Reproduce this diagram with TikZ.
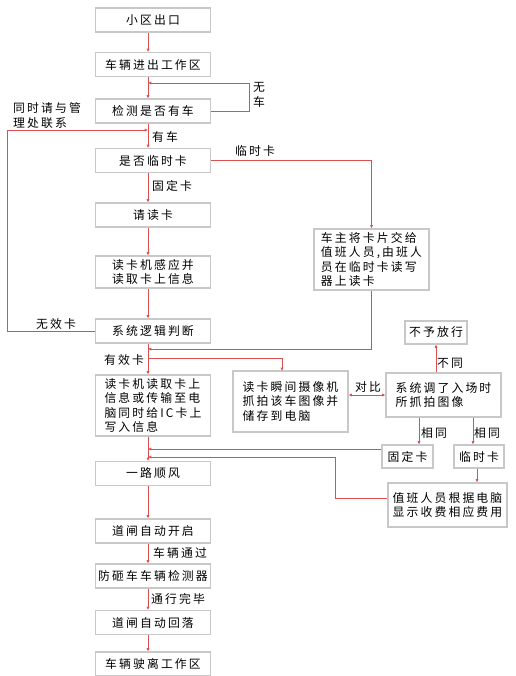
\documentclass[tikz,border=0pt]{standalone}
\usepackage{fontspec}
\setmainfont[LetterSpace=18]{Noto Sans CJK SC}
\usetikzlibrary{arrows.meta,calc}
\definecolor{flowred}{RGB}{218,80,80}
\definecolor{boxgray}{RGB}{200,200,200}
\tikzset{
  box/.style={draw=boxgray,line width=0.9pt,fill=white,inner sep=2pt,font=\fontsize{10.1}{12.2}\selectfont},
  mainbox/.style={box,minimum width=3.45cm,minimum height=0.72cm},
  flow/.style={draw=flowred,line width=0.7pt,-{Latex[length=2.8pt,width=2.6pt]}},
  flowboth/.style={draw=flowred,line width=0.7pt,{Latex[length=2.8pt,width=2.6pt]}-{Latex[length=2.8pt,width=2.6pt]}},
  lbl/.style={inner sep=0pt,font=\fontsize{10.1}{12.2}\selectfont}
}

\begin{document}
\begin{tikzpicture}[x=0.03cm,y=-0.03cm]
\useasboundingbox (0,0) rectangle (516,676);
\coordinate (m) at (148,0); \coordinate (k1) at (419,0); \coordinate (k2) at (473,0); \coordinate (k3) at (477,0);
\coordinate (j1) at (148,83); \coordinate (j2) at (148,130); \coordinate (j3) at (148,349); \coordinate (j4) at (148,358);
\coordinate (j5) at (148,449); \coordinate (j6) at (148,457); \coordinate (s1) at (282,371);

\node[mainbox] (start) at (153,20) {小区出口};
\node[mainbox] (enter) at (153,64.5) {车辆进出工作区};
\node[mainbox] (detect) at (153,111) {检测是否有车};
\node[mainbox] (tmpq) at (153,160.5) {是否临时卡};
\node[mainbox] (askread) at (153,215) {请读卡};
\node[mainbox,minimum height=0.96cm,align=left] (sense) at (153,272) {读卡机感应并\\读取卡上信息};
\node[mainbox] (judge) at (153,331) {系统逻辑判断};
\node[mainbox,minimum height=1.83cm,align=left] (writeic) at (153,405.5) {读卡机读取卡上\\信息或传输至电\\脑同时给IC卡上\\写入信息};
\node[mainbox] (onway) at (153,473.5) {一路顺风};
\node[mainbox] (gateup) at (153,531) {道闸自动开启};
\node[mainbox,inner xsep=0.5pt] (antismash) at (153,576) {防砸车车辆检测器};
\node[mainbox] (gatedown) at (153,622.5) {道闸自动回落};
\node[mainbox] (leave) at (153,664) {车辆驶离工作区};

\node[box,minimum width=3.45cm,minimum height=1.83cm,align=left] (handover) at (371.5,259.5) {车主将卡片交给\\值班人员,由班人\\员在临时卡读写\\器上读卡};
\node[box,minimum width=1.86cm,minimum height=0.69cm] (deny) at (436,332.5) {不予放行};
\node[box,minimum width=3.45cm,minimum height=1.83cm,align=left] (snap) at (290.5,401.5) {读卡瞬间摄像机\\抓拍该车图像并\\储存到电脑};
\node[box,minimum width=3.45cm,minimum height=1.32cm,align=left] (compare) at (443.5,395) {系统调了入场时\\所抓拍图像};
\node[box,minimum width=1.53cm,minimum height=0.69cm] (fixcard) at (407.5,456.5) {固定卡};
\node[box,minimum width=1.5cm,minimum height=0.69cm] (tmpcard) at (479,456.5) {临时卡};
\node[box,minimum width=3.57cm,minimum height=1.32cm,align=left] (charge) at (447.5,505) {值班人员根据电脑\\显示收费相应费用};

\draw[flow] (start.south-|m) -- (enter.north-|m);
\draw[flow] (enter.south-|m) -- (detect.north-|m);
\draw[flow] (detect.east) -- ++(38,0) |- (j1);
\draw[flow] (detect.south-|m) -- (tmpq.north-|m);
\draw[flow] (judge.west) -- ++(-88,0) |- (j2);
\draw[flow] (tmpq.east) -| (handover.north);
\draw[flow] (tmpq.south-|m) -- (askread.north-|m);
\draw[flow] (askread.south-|m) -- (sense.north-|m);
\draw[flow] (sense.south-|m) -- (judge.north-|m);
\draw[flow] (handover.south) |- (j3);
\draw[flow] (judge.south-|m) -- (writeic.north-|m);
\draw[flow] (j4) -| (s1);
\draw[flowboth] (snap.east|-compare.west) -- (compare.west);
\draw[flow] (compare.north-|deny.south) -- (deny.south);
\draw[flow] (compare.south-|k1) -- (fixcard.north-|k1);
\draw[flow] (compare.south-|k2) -- (tmpcard.north-|k2);
\draw[flow] (fixcard.west|-j5) -- (j5);
\draw[flow] (tmpcard.south-|k3) -- (charge.north-|k3);
\draw[flow] ([yshift=0.21cm]charge.west) -- ++(-52,0) |- (j6);
\draw[flow] (writeic.south-|m) -- (onway.north-|m);
\draw[flow] (onway.south-|m) -- (gateup.north-|m);
\draw[flow] (gateup.south-|m) -- (antismash.north-|m);
\draw[flow] (antismash.south-|m) -- (gatedown.north-|m);
\draw[flow] (gatedown.south-|m) -- (leave.north-|m);

\node[lbl,align=left] (nocar) at (259,95) {无\\车};
\node[lbl] (hascar) at (165,137) {有车};
\node[lbl,anchor=west,align=left] (contact) at (13,115.5) {同时请与管\\理处联系};
\node[lbl] (tmplbl) at (255,151) {临时卡};
\node[lbl] (fixlbl) at (172,186) {固定卡};
\node[lbl] (invalid) at (56,324) {无效卡};
\node[lbl] (valid) at (124,360) {有效卡};
\node[lbl] (cmp) at (368,387) {对比};
\node[lbl] (diff) at (450,363) {不同};
\node[lbl] (same1) at (434,433) {相同};
\node[lbl] (same2) at (487,433) {相同};
\node[lbl] (pass) at (180,553) {车辆通过};
\node[lbl] (done) at (178,599) {通行完毕};
\end{tikzpicture}
\end{document}
